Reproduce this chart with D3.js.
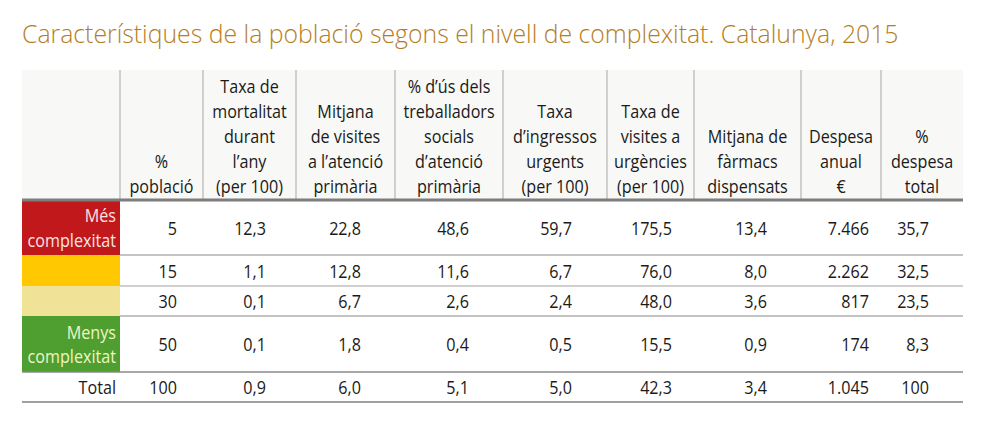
<!DOCTYPE html>
<html>
<head>
<meta charset="utf-8">
<script src="https://cdn.jsdelivr.net/npm/d3@7"></script>
<style>
  body { margin: 0; background: #fff; }
  svg { display: block; }
  .cell { font-family: "Open Sans", sans-serif; font-size: 19px; fill: #1a1a1a; }
</style>
</head>
<body>
<script>
// row categories (left column)
const categories = [["Més", "complexitat"], [], [], ["Menys", "complexitat"], ["Total"]]
const categoryColors = ["#c1181b", "#ffc800", "#f0e297", "#4f9e30", "none"]
const categoryText = ["#f6e4e2", "#fff", "#fff", "#eef5c6", "#1a1a1a"]

// column header labels
const headers = [
    ["%", "població"],
    ["Taxa de", "mortalitat", "durant", "l’any", "(per 100)"],
    ["Mitjana", "de visites", "a l’atenció", "primària"],
    ["% d’ús dels", "treballadors", "socials", "d’atenció", "primària"],
    ["Taxa", "d’ingressos", "urgents", "(per 100)"],
    ["Taxa de", "visites a", "urgències", "(per 100)"],
    ["Mitjana de", "fàrmacs", "dispensats"],
    ["Despesa", "anual", "€"],
    ["%", "despesa", "total"]
]

// series values, one array per column
const pctPoblacio = [5, 15, 30, 50, 100]
const mortalitat = [12.3, 1.1, 0.1, 0.1, 0.9]
const visitesAP = [22.8, 12.8, 6.7, 1.8, 6.0]
const treballadors = [48.6, 11.6, 2.6, 0.4, 5.1]
const ingressos = [59.7, 6.7, 2.4, 0.5, 5.0]
const urgencies = [175.5, 76.0, 48.0, 15.5, 42.3]
const farmacs = [13.4, 8.0, 3.6, 0.9, 3.4]
const despesa = [7466, 2262, 817, 174, 1045]
const pctDespesa = [35.7, 32.5, 23.5, 8.3, 100]

const series = [pctPoblacio, mortalitat, visitesAP, treballadors, ingressos, urgencies, farmacs, despesa, pctDespesa]

const locale = d3.formatLocale({decimal: ",", thousands: ".", grouping: [3], currency: ["", "€"]})
const formats = [
    locale.format("d"), locale.format(".1f"), locale.format(".1f"), locale.format(".1f"),
    locale.format(".1f"), locale.format(".1f"), locale.format(".1f"), locale.format(",d"), locale.format(".1~f")
]

// layout
const width = 988, height = 435
const colEdges = [22, 120, 203, 296, 395, 503, 607, 694, 801, 881, 963]
const valuePad = [26, 30, 34, 34, 35, 22, 34, 12, 34]
const rowEdges = [200, 255, 286, 316, 372, 402]
const headTop = 70, lineH = 25
const squeeze = 0.85   // fake a condensed face

const svg = d3.select("body").append("svg")
    .attr("width", width)
    .attr("height", height)

svg.append("text")
    .attr("x", 22)
    .attr("y", 43)
    .attr("fill", "#b47d1e")
    .style("font-family", "'Open Sans', sans-serif")
    .style("font-weight", 300)
    .style("font-size", "24.8px")
    .text("Característiques de la població segons el nivell de complexitat. Catalunya, 2015")

const colIdx = d3.range(series.length + 1)
const xLeft = d3.scaleOrdinal().domain(colIdx).range(colEdges.slice(0, -1))
const xRight = d3.scaleOrdinal().domain(colIdx).range(colEdges.slice(1))
const rowIdx = d3.range(categories.length)
const yTop = d3.scaleOrdinal().domain(rowIdx).range(rowEdges.slice(0, -1))
const yBot = d3.scaleOrdinal().domain(rowIdx).range(rowEdges.slice(1))
const yMid = i => (yTop(i) + yBot(i)) / 2

// multi-line text, squeezed horizontally
function label(x, y, lines, anchor, color) {
    const t = svg.append("text")
        .attr("class", "cell")
        .attr("text-anchor", anchor)
        .attr("transform", `translate(${x},${y}) scale(${squeeze},1)`)
    if (color) t.style("fill", color)
    t.selectAll("tspan").data(lines).enter()
        .append("tspan")
        .attr("x", 0)
        .attr("y", (d, i) => i * lineH)
        .text(d => d)
    return t
}

// header band
svg.append("rect")
    .attr("x", colEdges[0]).attr("y", headTop)
    .attr("width", colEdges[colEdges.length - 1] - colEdges[0])
    .attr("height", rowEdges[0] - headTop)
    .attr("fill", "#f8f8f6")

svg.selectAll(".vline").data(colEdges.slice(1, -1)).enter()
    .append("line")
    .attr("x1", d => d).attr("x2", d => d)
    .attr("y1", headTop).attr("y2", rowEdges[0])
    .attr("stroke", "#b5b5b5")
    .attr("stroke-width", 1.2)

headers.forEach((lines, c) => {
    const cx = (xLeft(c + 1) + xRight(c + 1)) / 2
    label(cx, 193 - (lines.length - 1) * lineH, lines, "middle")
})

// category cells
svg.selectAll(".cat").data(categories).enter()
    .append("rect")
    .attr("x", xLeft(0))
    .attr("y", (d, i) => yTop(i))
    .attr("width", xRight(0) - xLeft(0))
    .attr("height", (d, i) => yBot(i) - yTop(i))
    .attr("fill", (d, i) => categoryColors[i])

categories.forEach((lines, r) => {
    label(xRight(0) - 4, yMid(r) + 7 - (lines.length - 1) * lineH / 2, lines, "end", categoryText[r])
})

// values
series.forEach((vals, c) => {
    vals.forEach((v, r) => {
        label(xRight(c + 1) - valuePad[c], yMid(r) + 7, [formats[c](v)], "end")
    })
})

// row rules
const rules = [
    {y: rowEdges[0], x0: colEdges[0], w: 3, c: "#7d7d7d"},
    {y: rowEdges[1], x0: colEdges[1], w: 1.2, c: "#8a8a8a"},
    {y: rowEdges[2], x0: colEdges[1], w: 1, c: "#a0a0a0"},
    {y: rowEdges[3], x0: colEdges[1], w: 1.2, c: "#8a8a8a"},
    {y: rowEdges[4], x0: colEdges[0], w: 1.5, c: "#8a8a8a"},
    {y: rowEdges[5], x0: colEdges[0], w: 2, c: "#a0a0a0"}
]
svg.selectAll(".rule").data(rules).enter()
    .append("line")
    .attr("x1", d => d.x0).attr("x2", colEdges[colEdges.length - 1])
    .attr("y1", d => d.y).attr("y2", d => d.y)
    .attr("stroke", d => d.c)
    .attr("stroke-width", d => d.w)
</script>
</body>
</html>
